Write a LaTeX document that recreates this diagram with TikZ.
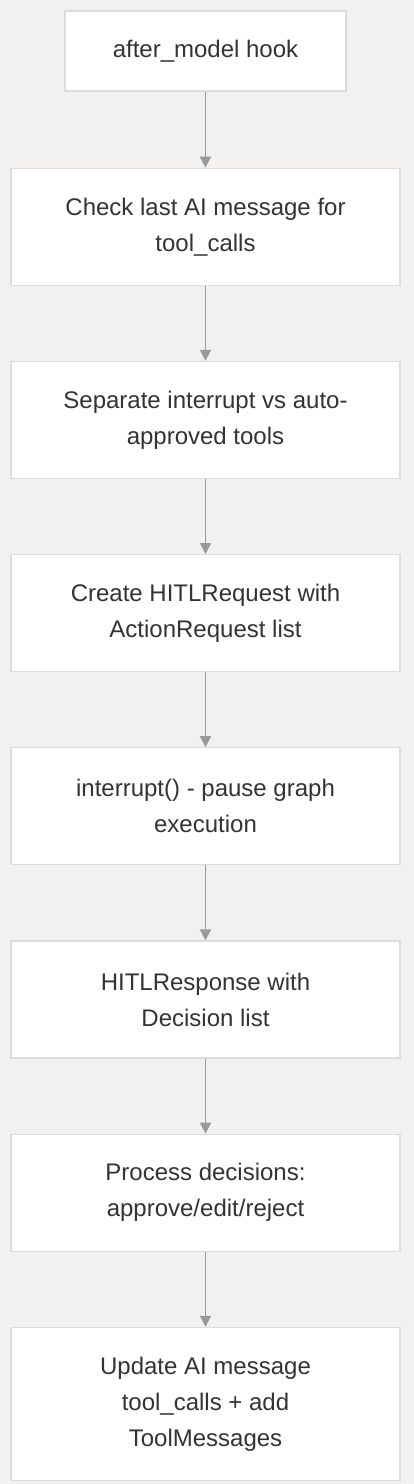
\documentclass[tikz,border=0pt]{standalone}
\usepackage{fontspec}
\setmainfont{Liberation Sans}
\usepackage{tikz}
\usetikzlibrary{arrows.meta,positioning}

\definecolor{bggray}{HTML}{F2F1EF}
\definecolor{boxline}{HTML}{DCDCDC}
\definecolor{arrowgray}{HTML}{999999}

\begin{document}
\begin{tikzpicture}[node distance=75pt]
  \tikzstyle{every node}=[fill=white,draw=boxline,line width=1.2pt,text=black!80,
                          align=center,font=\fontsize{24}{36}\selectfont]
  \tikzstyle{stepbox}=[minimum width=389pt,minimum height=117pt,inner sep=0pt]
  \tikzstyle{every edge}=[draw=arrowgray,line width=1.8pt,
                          -{Triangle[width=11pt,length=11pt,fill=arrowgray]}]

  \useasboundingbox[fill=bggray] (0,0) rectangle (414pt,-1484pt);

  \node[minimum width=281pt,minimum height=80pt] (hook) at (205.5pt,-51pt) {after\_model hook};
  \node[stepbox] (check)     [below=76pt of hook]   {Check last AI message for\\tool\_calls};
  \node[stepbox] (separate)  [below=of check]       {Separate interrupt vs auto-\\approved tools};
  \node[stepbox] (request)   [below=of separate]    {Create HITLRequest with\\ActionRequest list};
  \node[stepbox] (interrupt) [below=of request]     {interrupt() - pause graph\\execution};
  \node[stepbox] (response)  [below=of interrupt]   {HITLResponse with\\Decision list};
  \node[stepbox] (process)   [below=of response]    {Process decisions:\\approve/edit/reject};
  \node[stepbox,minimum height=153pt] (update) [below=of process]
        {Update AI message\\tool\_calls + add\\ToolMessages};

  \path (hook)      edge (check)
        (check)     edge (separate)
        (separate)  edge (request)
        (request)   edge (interrupt)
        (interrupt) edge (response)
        (response)  edge (process)
        (process)   edge (update);
\end{tikzpicture}
\end{document}
